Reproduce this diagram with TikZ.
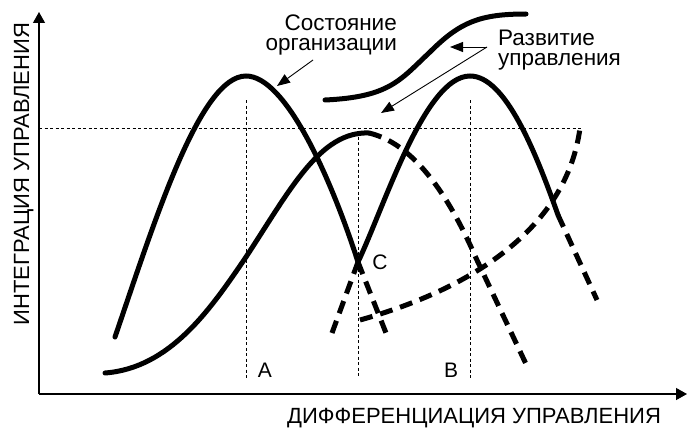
\documentclass[tikz,border=0pt]{standalone}
\usepackage{fontspec}
\setmainfont{Liberation Sans}
\usetikzlibrary{arrows.meta}
\begin{document}
\begin{tikzpicture}[x=1pt,y=-1pt,
  solidcurve/.style={line width=5pt, line cap=round},
  dashcurve/.style={line width=5pt, dash pattern=on 13pt off 8pt},
  guide/.style={line width=0.9pt, dash pattern=on 3pt off 2.5pt},
  axisline/.style={line width=1.3pt, -{Triangle[length=11pt,width=12pt]}},
  pointer/.style={line width=0.9pt, -{Triangle[length=13pt,width=10pt]}},
  axlbl/.style={font=\fontsize{22}{24}\selectfont, inner sep=0pt},
  ptlbl/.style={font=\fontsize{21}{24}\selectfont, inner sep=0pt},
  txtlbl/.style={font=\fontsize{22.5}{20.5}\selectfont, inner sep=0pt},
]
\useasboundingbox (0,0) rectangle (688,428);

% axes
\coordinate (O) at (39,394);
\coordinate (Ytop) at (39,12);
\coordinate (Xend) at (687,394);
\draw[axisline] (O) -- (Ytop);
\draw[axisline] (O) -- (Xend);

% guides
\coordinate (H0) at (39,128);
\coordinate (H1) at (581,128);
\draw[guide] (H0) -- (H1);
\coordinate (VA0) at (246,100);
\coordinate (VA1) at (246,378);
\coordinate (VC0) at (358,131);
\coordinate (VC1) at (358,378);
\coordinate (VB0) at (470,100);
\coordinate (VB1) at (470,378);
\draw[guide] (VA0) -- (VA1);
\draw[guide] (VC0) -- (VC1);
\draw[guide] (VB0) -- (VB1);

% key points
\coordinate (C1s) at (115,337);
\coordinate (P1) at (246,76);
\coordinate (Cx) at (358,262);
\coordinate (C1e) at (386,333);
\coordinate (C2s) at (105,373);
\coordinate (C2m) at (246,257);
\coordinate (C2p) at (369,133);
\coordinate (C2k) at (476,258);
\coordinate (C2e) at (526,364);
\coordinate (C3s) at (360,320);
\coordinate (C3e) at (580,128);
\coordinate (C4s) at (332,333);
\coordinate (P2) at (470,76);
\coordinate (C4k) at (558,215);
\coordinate (C4e) at (597,300);
\coordinate (Ss) at (325,100);
\coordinate (Sm) at (430,52);
\coordinate (Se) at (526,14);

% curve 1 (first hump)
\draw[solidcurve] (C1s) .. controls (155,220) and (200,76) .. (P1)
  .. controls (285,76) and (330,175) .. (Cx);
\draw[dashcurve] (Cx) -- (C1e);

% curve 2 (rising S)
\draw[solidcurve] (C2s) .. controls (170,368) and (210,310) .. (C2m)
  .. controls (290,190) and (320,131) .. (C2p);
\draw[dashcurve] (C2p) .. controls (420,145) and (455,210) .. (C2k) -- (C2e);

% curve 3 (dashed rising)
\draw[dashcurve] (C3s) .. controls (450,295) and (565,240) .. (C3e);

% curve 4 (second hump)
\draw[dashcurve] (C4s) -- (Cx);
\draw[solidcurve] (Cx) .. controls (385,205) and (425,76) .. (P2)
  .. controls (505,76) and (535,150) .. (C4k);
\draw[dashcurve] (C4k) -- (C4e);

% top S-curve
\draw[solidcurve] (Ss) .. controls (390,97) and (400,80) .. (Sm)
  .. controls (460,22) and (480,14) .. (Se);

% pointers
\coordinate (p1s) at (313,60);
\coordinate (p1e) at (277,86);
\draw[pointer] (p1s) -- (p1e);
\coordinate (p2s) at (487,47);
\coordinate (p2a) at (450,47);
\coordinate (p2b) at (381,113);
\draw[pointer] (p2s) -- (p2a);
\draw[pointer] (p2s) -- (p2b);

% texts
\node[txtlbl, align=right, anchor=base east] (t1) at (397,51) {Состояние\\организации};
\node[txtlbl, align=left, anchor=base west] (t3) at (498,66) {Развитие\\управления};

\node[ptlbl, anchor=base] (la) at (265,377) {A};
\node[ptlbl, anchor=base] (lb) at (451,377) {B};
\node[ptlbl, anchor=base] (lc) at (380,269) {C};

\node[axlbl, anchor=base west] (xlab) at (287,423) {ДИФФЕРЕНЦИАЦИЯ УПРАВЛЕНИЯ};
\node[axlbl, anchor=base, rotate=90] (ylab) at (29,174) {ИНТЕГРАЦИЯ УПРАВЛЕНИЯ};
\end{tikzpicture}
\end{document}
